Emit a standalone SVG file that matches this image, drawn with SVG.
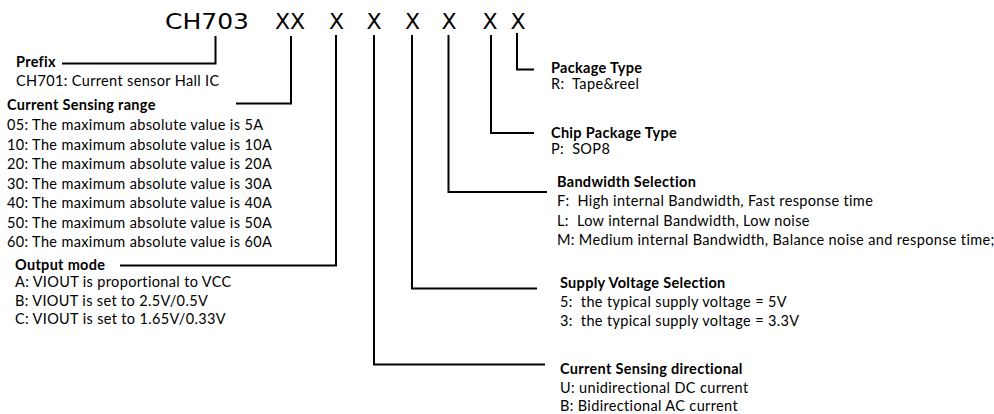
<svg xmlns="http://www.w3.org/2000/svg" width="994" height="414" viewBox="0 0 994 414">
<style>
.t{font-family:"DejaVu Sans",sans-serif;font-size:22px;fill:#000}
.x{text-anchor:middle}
.h{font-family:Lato,"Liberation Sans",sans-serif;font-size:14.5px;font-weight:bold;letter-spacing:0.3px;fill:#000}
.b{font-family:Lato,"Liberation Sans",sans-serif;font-size:14.5px;letter-spacing:0.35px;fill:#000}
.c{fill:none;stroke:#000;stroke-width:2}
</style>
<rect width="994" height="414" fill="#fff"/>
<g id="title">
<text class="t" x="165" y="28.5" textLength="84" lengthAdjust="spacingAndGlyphs">CH703</text>
<text class="t x" x="282.5" y="28.5">X</text>
<text class="t x" x="297.5" y="28.5">X</text>
<text class="t x" x="336.5" y="28.5">X</text>
<text class="t x" x="374" y="28.5">X</text>
<text class="t x" x="412.5" y="28.5">X</text>
<text class="t x" x="449" y="28.5">X</text>
<text class="t x" x="490" y="28.5">X</text>
<text class="t x" x="518" y="28.5">X</text>
</g>
<g id="connectors">
<polyline class="c" points="215.5,36 215.5,63.5 62,63.5"/>
<polyline class="c" points="291,36 291,103.5 236,103.5"/>
<polyline class="c" points="336,35 336,265.5 120,265.5"/>
<polyline class="c" points="374,35 374,364.5 545,364.5"/>
<polyline class="c" points="412,35 412,288.5 537,288.5"/>
<polyline class="c" points="448.5,35 448.5,192 547,192"/>
<polyline class="c" points="491,35 491,133 534,133"/>
<polyline class="c" points="517,33 517,69.5 534,69.5"/>
</g>
<g id="prefix">
<text class="h" x="16" y="66.5">Prefix</text>
<text class="b" x="16" y="86">CH701: Current sensor Hall IC</text>
</g>
<g id="range">
<text class="h" x="7" y="109.5">Current Sensing range</text>
<text class="b" x="7" y="130">05: The maximum absolute value is 5A</text>
<text class="b" x="7" y="149.5">10: The maximum absolute value is 10A</text>
<text class="b" x="7" y="169">20: The maximum absolute value is 20A</text>
<text class="b" x="7" y="188.5">30: The maximum absolute value is 30A</text>
<text class="b" x="7" y="208">40: The maximum absolute value is 40A</text>
<text class="b" x="7" y="227.5">50: The maximum absolute value is 50A</text>
<text class="b" x="7" y="247">60: The maximum absolute value is 60A</text>
</g>
<g id="output">
<text class="h" x="15" y="270">Output mode</text>
<text class="b" x="15" y="287">A: VIOUT is proportional to VCC</text>
<text class="b" x="15" y="305.5">B: VIOUT is set to 2.5V/0.5V</text>
<text class="b" x="15" y="324">C: VIOUT is set to 1.65V/0.33V</text>
</g>
<g id="package">
<text class="h" x="551" y="72.5">Package Type</text>
<text class="b" x="551" y="89">R:&#160; Tape&amp;reel</text>
</g>
<g id="chip">
<text class="h" x="551" y="138">Chip Package Type</text>
<text class="b" x="551" y="154">P:&#160; SOP8</text>
</g>
<g id="bandwidth">
<text class="h" x="557" y="187">Bandwidth Selection</text>
<text class="b" x="557" y="206">F:&#160; High internal Bandwidth, Fast response time</text>
<text class="b" x="557" y="225.5">L:&#160; Low internal Bandwidth, Low noise</text>
<text class="b" x="557" y="245">M: Medium internal Bandwidth, Balance noise and response time;</text>
</g>
<g id="supply">
<text class="h" x="560" y="288">Supply Voltage Selection</text>
<text class="b" x="560" y="307">5:&#160; the typical supply voltage = 5V</text>
<text class="b" x="560" y="326">3:&#160; the typical supply voltage = 3.3V</text>
</g>
<g id="direction">
<text class="h" x="560" y="374">Current Sensing directional</text>
<text class="b" x="560" y="392.5">U: unidirectional DC current</text>
<text class="b" x="560" y="410.5">B: Bidirectional AC current</text>
</g>
</svg>
